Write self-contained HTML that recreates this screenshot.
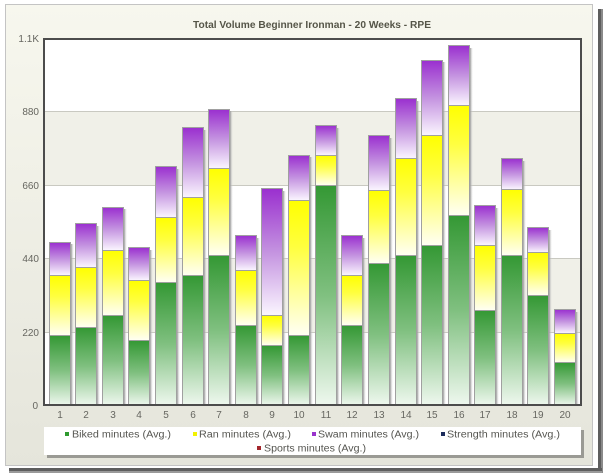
<!DOCTYPE html>
<html><head><meta charset="utf-8"><style>
html,body{margin:0;padding:0;background:#fff;}
svg{display:block;}
text{font-family:"Liberation Sans",Arial,sans-serif;}
</style></head><body>
<svg width="604" height="476" viewBox="0 0 604 476" xmlns="http://www.w3.org/2000/svg">
<defs>
<linearGradient id="bg" x1="0" y1="0" x2="0" y2="1"><stop offset="0" stop-color="#f7f7ee"/><stop offset="1" stop-color="#e5e5db"/></linearGradient>
<linearGradient id="gG" x1="0" y1="0" x2="0" y2="1"><stop offset="0" stop-color="#349834"/><stop offset="0.5" stop-color="#80c080"/><stop offset="1" stop-color="#eff8ef"/></linearGradient>
<linearGradient id="gY" x1="0" y1="0" x2="0" y2="1"><stop offset="0" stop-color="#ffff00"/><stop offset="0.35" stop-color="#ffff40"/><stop offset="1" stop-color="#fffff4"/></linearGradient>
<linearGradient id="gP" x1="0" y1="0" x2="0" y2="1"><stop offset="0" stop-color="#9a2fcf"/><stop offset="0.5" stop-color="#c493e0"/><stop offset="1" stop-color="#fbf6ff"/></linearGradient>
<linearGradient id="sh" x1="0" y1="0" x2="1" y2="0"><stop offset="0" stop-color="#999"/><stop offset="1" stop-color="#e0e0e0" stop-opacity="0"/></linearGradient>
</defs>
<rect x="0" y="0" width="604" height="476" fill="#fff"/>
<!-- outer shadow -->
<rect x="598" y="9" width="4" height="464" fill="#5e5e5e"/>
<rect x="601" y="9" width="2" height="464" fill="#8a8a8a"/>
<rect x="9" y="468" width="593" height="3" fill="#5e5e5e"/>
<rect x="9" y="471" width="593" height="2" fill="#9a9a9a"/>
<!-- panel -->
<rect x="5.5" y="4.5" width="587" height="461" fill="url(#bg)" stroke="#c4c4c4" stroke-width="1"/>
<!-- title -->
<text x="193" y="28" font-size="10" font-weight="bold" fill="#555548" textLength="238" lengthAdjust="spacingAndGlyphs">Total Volume  Beginner Ironman - 20 Weeks - RPE</text>
<!-- plot bg -->
<rect x="44" y="39" width="537" height="366" fill="#fff"/>
<rect x="44" y="111" width="537" height="74" fill="#f0f0e8"/>
<rect x="44" y="259" width="537" height="73" fill="#f0f0e8"/>
<g stroke="#c9c9c1" stroke-width="1">
<line x1="44" y1="111.5" x2="581" y2="111.5"/>
<line x1="44" y1="185.5" x2="581" y2="185.5"/>
<line x1="44" y1="258.5" x2="581" y2="258.5"/>
<line x1="44" y1="332.5" x2="581" y2="332.5"/>
</g>
<!-- bars -->
<g id="bars"></g>
<g stroke="#a0a0a0" stroke-width="1">
<!-- generated below -->
</g>
<g>
<!-- bar template: shadow, green, yellow, purple -->
<g><rect x="71" y="244" width="3" height="161" fill="url(#sh)"/><rect x="49.5" y="335.5" width="21" height="70" fill="url(#gG)" stroke="#a0a0a0"/><rect x="49.5" y="275.5" width="21" height="60" fill="url(#gY)" stroke="#a0a0a0"/><rect x="49.5" y="242.5" width="21" height="33" fill="url(#gP)" stroke="#a0a0a0"/></g>
<g><rect x="97" y="226" width="3" height="179" fill="url(#sh)"/><rect x="75.5" y="327.5" width="21" height="78" fill="url(#gG)" stroke="#a0a0a0"/><rect x="75.5" y="267.5" width="21" height="60" fill="url(#gY)" stroke="#a0a0a0"/><rect x="75.5" y="223.5" width="21" height="44" fill="url(#gP)" stroke="#a0a0a0"/></g>
<g><rect x="124" y="209" width="3" height="196" fill="url(#sh)"/><rect x="102.5" y="315.5" width="21" height="90" fill="url(#gG)" stroke="#a0a0a0"/><rect x="102.5" y="250.5" width="21" height="65" fill="url(#gY)" stroke="#a0a0a0"/><rect x="102.5" y="207.5" width="21" height="43" fill="url(#gP)" stroke="#a0a0a0"/></g>
<g><rect x="150" y="250" width="3" height="155" fill="url(#sh)"/><rect x="128.5" y="340.5" width="21" height="65" fill="url(#gG)" stroke="#a0a0a0"/><rect x="128.5" y="280.5" width="21" height="60" fill="url(#gY)" stroke="#a0a0a0"/><rect x="128.5" y="247.5" width="21" height="33" fill="url(#gP)" stroke="#a0a0a0"/></g>
<g><rect x="177" y="169" width="3" height="236" fill="url(#sh)"/><rect x="155.5" y="282.5" width="21" height="123" fill="url(#gG)" stroke="#a0a0a0"/><rect x="155.5" y="217.5" width="21" height="65" fill="url(#gY)" stroke="#a0a0a0"/><rect x="155.5" y="166.5" width="21" height="51" fill="url(#gP)" stroke="#a0a0a0"/></g>
<g><rect x="204" y="130" width="3" height="275" fill="url(#sh)"/><rect x="182.5" y="275.5" width="21" height="130" fill="url(#gG)" stroke="#a0a0a0"/><rect x="182.5" y="197.5" width="21" height="78" fill="url(#gY)" stroke="#a0a0a0"/><rect x="182.5" y="127.5" width="21" height="70" fill="url(#gP)" stroke="#a0a0a0"/></g>
<g><rect x="230" y="111" width="3" height="294" fill="url(#sh)"/><rect x="208.5" y="255.5" width="21" height="150" fill="url(#gG)" stroke="#a0a0a0"/><rect x="208.5" y="168.5" width="21" height="87" fill="url(#gY)" stroke="#a0a0a0"/><rect x="208.5" y="109.5" width="21" height="59" fill="url(#gP)" stroke="#a0a0a0"/></g>
<g><rect x="257" y="238" width="3" height="167" fill="url(#sh)"/><rect x="235.5" y="325.5" width="21" height="80" fill="url(#gG)" stroke="#a0a0a0"/><rect x="235.5" y="270.5" width="21" height="55" fill="url(#gY)" stroke="#a0a0a0"/><rect x="235.5" y="235.5" width="21" height="35" fill="url(#gP)" stroke="#a0a0a0"/></g>
<g><rect x="283" y="191" width="3" height="214" fill="url(#sh)"/><rect x="261.5" y="345.5" width="21" height="60" fill="url(#gG)" stroke="#a0a0a0"/><rect x="261.5" y="315.5" width="21" height="30" fill="url(#gY)" stroke="#a0a0a0"/><rect x="261.5" y="188.5" width="21" height="127" fill="url(#gP)" stroke="#a0a0a0"/></g>
<g><rect x="310" y="157" width="3" height="248" fill="url(#sh)"/><rect x="288.5" y="335.5" width="21" height="70" fill="url(#gG)" stroke="#a0a0a0"/><rect x="288.5" y="200.5" width="21" height="135" fill="url(#gY)" stroke="#a0a0a0"/><rect x="288.5" y="155.5" width="21" height="45" fill="url(#gP)" stroke="#a0a0a0"/></g>
<g><rect x="337" y="128" width="3" height="277" fill="url(#sh)"/><rect x="315.5" y="185.5" width="21" height="220" fill="url(#gG)" stroke="#a0a0a0"/><rect x="315.5" y="155.5" width="21" height="30" fill="url(#gY)" stroke="#a0a0a0"/><rect x="315.5" y="125.5" width="21" height="30" fill="url(#gP)" stroke="#a0a0a0"/></g>
<g><rect x="363" y="238" width="3" height="167" fill="url(#sh)"/><rect x="341.5" y="325.5" width="21" height="80" fill="url(#gG)" stroke="#a0a0a0"/><rect x="341.5" y="275.5" width="21" height="50" fill="url(#gY)" stroke="#a0a0a0"/><rect x="341.5" y="235.5" width="21" height="40" fill="url(#gP)" stroke="#a0a0a0"/></g>
<g><rect x="390" y="138" width="3" height="267" fill="url(#sh)"/><rect x="368.5" y="263.5" width="21" height="142" fill="url(#gG)" stroke="#a0a0a0"/><rect x="368.5" y="190.5" width="21" height="73" fill="url(#gY)" stroke="#a0a0a0"/><rect x="368.5" y="135.5" width="21" height="55" fill="url(#gP)" stroke="#a0a0a0"/></g>
<g><rect x="417" y="101" width="3" height="304" fill="url(#sh)"/><rect x="395.5" y="255.5" width="21" height="150" fill="url(#gG)" stroke="#a0a0a0"/><rect x="395.5" y="158.5" width="21" height="97" fill="url(#gY)" stroke="#a0a0a0"/><rect x="395.5" y="98.5" width="21" height="60" fill="url(#gP)" stroke="#a0a0a0"/></g>
<g><rect x="443" y="62" width="3" height="343" fill="url(#sh)"/><rect x="421.5" y="245.5" width="21" height="160" fill="url(#gG)" stroke="#a0a0a0"/><rect x="421.5" y="135.5" width="21" height="110" fill="url(#gY)" stroke="#a0a0a0"/><rect x="421.5" y="60.5" width="21" height="75" fill="url(#gP)" stroke="#a0a0a0"/></g>
<g><rect x="470" y="48" width="3" height="357" fill="url(#sh)"/><rect x="448.5" y="215.5" width="21" height="190" fill="url(#gG)" stroke="#a0a0a0"/><rect x="448.5" y="105.5" width="21" height="110" fill="url(#gY)" stroke="#a0a0a0"/><rect x="448.5" y="45.5" width="21" height="60" fill="url(#gP)" stroke="#a0a0a0"/></g>
<g><rect x="496" y="208" width="3" height="197" fill="url(#sh)"/><rect x="474.5" y="310.5" width="21" height="95" fill="url(#gG)" stroke="#a0a0a0"/><rect x="474.5" y="245.5" width="21" height="65" fill="url(#gY)" stroke="#a0a0a0"/><rect x="474.5" y="205.5" width="21" height="40" fill="url(#gP)" stroke="#a0a0a0"/></g>
<g><rect x="523" y="161" width="3" height="244" fill="url(#sh)"/><rect x="501.5" y="255.5" width="21" height="150" fill="url(#gG)" stroke="#a0a0a0"/><rect x="501.5" y="189.5" width="21" height="66" fill="url(#gY)" stroke="#a0a0a0"/><rect x="501.5" y="158.5" width="21" height="31" fill="url(#gP)" stroke="#a0a0a0"/></g>
<g><rect x="549" y="230" width="3" height="175" fill="url(#sh)"/><rect x="527.5" y="295.5" width="21" height="110" fill="url(#gG)" stroke="#a0a0a0"/><rect x="527.5" y="252.5" width="21" height="43" fill="url(#gY)" stroke="#a0a0a0"/><rect x="527.5" y="227.5" width="21" height="25" fill="url(#gP)" stroke="#a0a0a0"/></g>
<g><rect x="576" y="312" width="3" height="93" fill="url(#sh)"/><rect x="554.5" y="362.5" width="21" height="43" fill="url(#gG)" stroke="#a0a0a0"/><rect x="554.5" y="333.5" width="21" height="29" fill="url(#gY)" stroke="#a0a0a0"/><rect x="554.5" y="309.5" width="21" height="24" fill="url(#gP)" stroke="#a0a0a0"/></g>
</g>
<!-- plot border -->
<rect x="44" y="39" width="537" height="366" fill="none" stroke="#4c4c4c" stroke-width="2"/>
<!-- y labels -->
<g font-size="10" fill="#666660" text-anchor="end">
<text x="39" y="42">1.1K</text>
<text x="39" y="115">880</text>
<text x="39" y="189">660</text>
<text x="39" y="262">440</text>
<text x="39" y="336">220</text>
<text x="38" y="409">0</text>
</g>
<!-- x labels -->
<g font-size="10" fill="#666660" text-anchor="middle">
<text x="60" y="418">1</text><text x="86" y="418">2</text><text x="113" y="418">3</text><text x="139" y="418">4</text><text x="166" y="418">5</text>
<text x="193" y="418">6</text><text x="219" y="418">7</text><text x="246" y="418">8</text><text x="272" y="418">9</text><text x="299" y="418">10</text>
<text x="326" y="418">11</text><text x="352" y="418">12</text><text x="379" y="418">13</text><text x="406" y="418">14</text><text x="432" y="418">15</text>
<text x="459" y="418">16</text><text x="485" y="418">17</text><text x="512" y="418">18</text><text x="538" y="418">19</text><text x="565" y="418">20</text>
</g>
<!-- legend -->
<rect x="47" y="430" width="537" height="28" fill="#9a9a94"/>
<rect x="44" y="427" width="537" height="28" fill="#fff"/>
<g font-size="10" fill="#555550">
<rect x="65" y="432" width="4" height="4" fill="#2f9a2f"/>
<text x="72" y="437.5" textLength="99" lengthAdjust="spacingAndGlyphs">Biked minutes (Avg.)</text>
<rect x="193" y="432" width="4" height="4" fill="#f2f200"/>
<text x="199" y="437.5" textLength="92" lengthAdjust="spacingAndGlyphs">Ran minutes (Avg.)</text>
<rect x="312" y="432" width="4" height="4" fill="#9933cc"/>
<text x="318" y="437.5" textLength="101" lengthAdjust="spacingAndGlyphs">Swam minutes (Avg.)</text>
<rect x="441" y="432" width="4" height="4" fill="#1c2c5c"/>
<text x="447" y="437.5" textLength="113" lengthAdjust="spacingAndGlyphs">Strength minutes (Avg.)</text>
<rect x="257" y="446" width="4" height="4" fill="#a3262c"/>
<text x="264" y="451.5" textLength="102" lengthAdjust="spacingAndGlyphs">Sports minutes (Avg.)</text>
</g>
</svg>
</body></html>
